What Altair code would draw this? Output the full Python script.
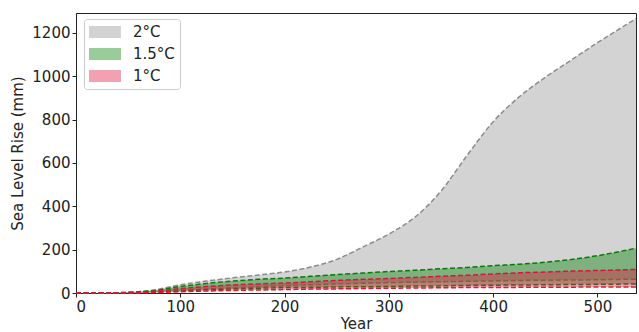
import altair as alt
import pandas as pd

years = [0, 25, 50, 75, 100, 125, 150, 175, 200, 225, 250, 275, 300, 325, 350,
         375, 400, 425, 450, 475, 500, 525, 537]

t2_upper = [0, 0.5, 3, 14, 38, 55, 70, 83, 97, 120, 155, 212, 272, 350, 470,
            635, 790, 905, 995, 1075, 1155, 1230, 1266]
t2_lower = [0, 0, 1, 5, 12, 18, 24, 29, 34, 38, 42, 45, 48, 50, 52,
            54, 56, 58, 59, 60, 61, 63, 64]
t15_upper = [0, 0.5, 3, 12, 30, 44, 55, 63, 69, 77, 85, 92, 99, 105, 112,
             118, 126, 133, 142, 155, 172, 195, 207]
t15_lower = [0, 0, 1, 4, 10, 15, 19, 22, 25, 26, 28, 29, 30, 32, 33,
             35, 36, 37, 38, 39, 40, 41, 41]
t1_upper = [0, 0, 2, 8, 20, 30, 37, 42, 46, 52, 58, 63, 67, 72, 77,
            82, 88, 93, 97, 101, 104, 107, 109]
t1_lower = [0, 0, 0.5, 2, 6, 9, 12, 14, 16, 18, 19, 21, 22, 23, 24,
            25, 25, 26, 27, 27, 28, 28, 28]

bands = ["2°C", "1.5°C", "1°C"]
fill_colors = ["#919191", "#008000", "#dc143c"]
line_colors = ["#8c8c8c", "#008000", "#dc143c"]

series = {
    "2°C": (t2_lower, t2_upper),
    "1.5°C": (t15_lower, t15_upper),
    "1°C": (t1_lower, t1_upper),
}

rows = []
for b, (lo, up) in series.items():
    for y, l, u in zip(years, lo, up):
        rows.append({"year": y, "band": b, "lower": l, "upper": u})
df = pd.DataFrame(rows)

xs = alt.Scale(domain=[0, 537], nice=False, zero=False)
ys = alt.Scale(domain=[0, 1292], nice=False)
fill_scale = alt.Scale(domain=bands, range=fill_colors)
stroke_scale = alt.Scale(domain=bands, range=line_colors)

x_axis = alt.Axis(values=[0, 100, 200, 300, 400, 500], title="Year", grid=False,
                  format="d", titlePadding=2)
y_axis = alt.Axis(values=[0, 200, 400, 600, 800, 1000, 1200], title="Sea Level Rise (mm)",
                  grid=False, format="d", titlePadding=6)

legend = alt.Legend(
    title=None, orient="none", legendX=8, legendY=6,
    symbolType="M-2,-0.75H2V0.75H-2Z", symbolSize=256, symbolOffset=8,
    symbolOpacity=0.4, symbolStrokeWidth=0,
    labelFontSize=15, labelOffset=20, rowPadding=6,
    padding=5, strokeColor="#cccccc", fillColor="white",
    cornerRadius=3,
)

layers = []
for b in bands:
    base = alt.Chart(df).transform_filter(alt.datum.band == b)
    area = base.mark_area(opacity=0.4, interpolate="monotone").encode(
        x=alt.X("year:Q", scale=xs, axis=x_axis),
        y=alt.Y("lower:Q", scale=ys, axis=y_axis),
        y2="upper:Q",
        fill=alt.Fill("band:N", scale=fill_scale, legend=legend, sort=bands),
    )
    lo_line = base.mark_line(strokeDash=[5, 2.5], strokeWidth=1.5, interpolate="monotone").encode(
        x="year:Q", y="lower:Q",
        stroke=alt.Stroke("band:N", scale=stroke_scale, legend=None),
    )
    up_line = base.mark_line(strokeDash=[5, 2.5], strokeWidth=1.5, interpolate="monotone").encode(
        x="year:Q", y="upper:Q",
        stroke=alt.Stroke("band:N", scale=stroke_scale, legend=None),
    )
    layers += [area, lo_line, up_line]

chart = alt.layer(*layers).properties(
    width=560, height=280,
    autosize=alt.AutoSizeParams(type="none"),
    padding={"left": 76, "top": 13, "right": 3, "bottom": 39},
).configure_view(
    stroke="#222222", strokeWidth=1
).configure_axis(
    labelFont="DejaVu Sans", titleFont="DejaVu Sans",
    labelFontSize=15, titleFontSize=15, titleFontWeight="normal",
    labelColor="#222222", titleColor="#222222",
    domainColor="#222222", tickColor="#222222", tickSize=4,
    labelPadding=2,
).configure_legend(
    labelFont="DejaVu Sans", labelColor="#222222"
)

chart.save("out.html", embed_options={"renderer": "svg", "actions": False})
